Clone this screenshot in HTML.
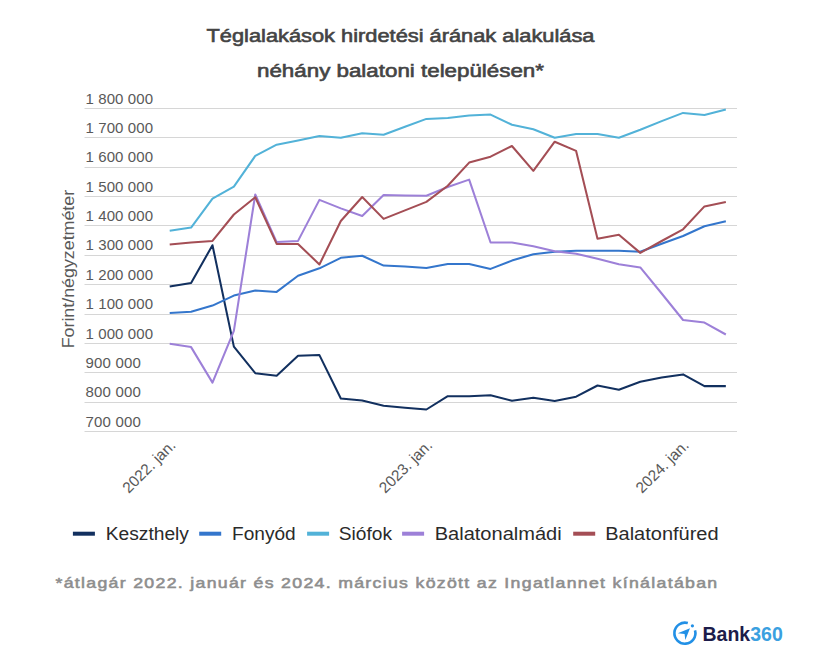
<!DOCTYPE html>
<html><head><meta charset="utf-8"><style>
html,body{margin:0;padding:0;background:#fff;}
body{width:813px;height:663px;overflow:hidden;position:relative;font-family:"Liberation Sans",sans-serif;}
svg{position:absolute;left:0;top:0;}
.tk{font-size:15px;fill:#595959;}
.yt{font-size:16.8px;fill:#595959;}
.title{font-size:18.3px;font-weight:normal;fill:#444;stroke:#444;stroke-width:0.6px;}
.leg{font-size:17.5px;fill:#2a2a2a;}
.foot{font-size:14.8px;font-weight:normal;fill:#8e8e8e;stroke:#8e8e8e;stroke-width:0.55px;letter-spacing:1.1px;}
</style></head><body>
<svg width="813" height="663" viewBox="0 0 813 663">
<text x="206.5" y="41.9" class="title" textLength="388" lengthAdjust="spacingAndGlyphs">Téglalakások hirdetési árának alakulása</text>
<text x="257" y="76.7" class="title" textLength="287" lengthAdjust="spacingAndGlyphs">néhány balatoni településen*</text>
<rect x="84.5" y="108" width="652.5" height="1" fill="#d6d6d6"/>
<rect x="84.5" y="137" width="652.5" height="1" fill="#d6d6d6"/>
<rect x="84.5" y="167" width="652.5" height="1" fill="#d6d6d6"/>
<rect x="84.5" y="196" width="652.5" height="1" fill="#d6d6d6"/>
<rect x="84.5" y="225" width="652.5" height="1" fill="#d6d6d6"/>
<rect x="84.5" y="255" width="652.5" height="1" fill="#d6d6d6"/>
<rect x="84.5" y="284" width="652.5" height="1" fill="#d6d6d6"/>
<rect x="84.5" y="314" width="652.5" height="1" fill="#d6d6d6"/>
<rect x="84.5" y="343" width="652.5" height="1" fill="#d6d6d6"/>
<rect x="84.5" y="372" width="652.5" height="1" fill="#d6d6d6"/>
<rect x="84.5" y="402" width="652.5" height="1" fill="#d6d6d6"/>
<rect x="84.5" y="431" width="652.5" height="1" fill="#d6d6d6"/>
<text x="85.5" y="103.70" class="tk" style="letter-spacing:0.1px">1 800 000</text>
<text x="85.5" y="133.05" class="tk" style="letter-spacing:0.1px">1 700 000</text>
<text x="85.5" y="162.40" class="tk" style="letter-spacing:0.1px">1 600 000</text>
<text x="85.5" y="191.75" class="tk" style="letter-spacing:0.1px">1 500 000</text>
<text x="85.5" y="221.10" class="tk" style="letter-spacing:0.1px">1 400 000</text>
<text x="85.5" y="250.45" class="tk" style="letter-spacing:0.1px">1 300 000</text>
<text x="85.5" y="279.80" class="tk" style="letter-spacing:0.1px">1 200 000</text>
<text x="85.5" y="309.15" class="tk" style="letter-spacing:0.1px">1 100 000</text>
<text x="85.5" y="338.50" class="tk" style="letter-spacing:0.1px">1 000 000</text>
<text x="85.5" y="367.85" class="tk" style="letter-spacing:0.2px">900 000</text>
<text x="85.5" y="397.20" class="tk" style="letter-spacing:0.2px">800 000</text>
<text x="85.5" y="426.55" class="tk" style="letter-spacing:0.2px">700 000</text>
<text transform="translate(176.50,446.3) rotate(-45)" text-anchor="end" class="tk" style="font-size:15.4px">2022. jan.</text>
<text transform="translate(433.18,446.3) rotate(-45)" text-anchor="end" class="tk" style="font-size:15.4px">2023. jan.</text>
<text transform="translate(689.86,446.3) rotate(-45)" text-anchor="end" class="tk" style="font-size:15.4px">2024. jan.</text>
<text transform="translate(74.3,269.1) rotate(-90)" text-anchor="middle" class="yt" textLength="158.5" lengthAdjust="spacingAndGlyphs">Forint/négyzetméter</text>
<polyline points="169.70,286.50 191.09,283.00 212.48,245.20 233.87,346.60 255.26,373.20 276.65,375.70 298.04,355.80 319.43,355.10 340.82,398.50 362.21,400.60 383.60,405.70 404.99,407.70 426.38,409.50 447.77,396.20 469.16,396.20 490.55,395.20 511.94,400.70 533.33,397.80 554.72,401.00 576.11,396.70 597.50,385.50 618.89,389.80 640.28,381.80 661.67,377.60 683.06,374.40 704.45,386.10 725.84,386.10" fill="none" stroke="#12305f" stroke-width="2.05" stroke-linejoin="round" stroke-linecap="butt"/>
<polyline points="169.70,313.00 191.09,311.80 212.48,305.60 233.87,295.60 255.26,290.60 276.65,291.90 298.04,275.70 319.43,268.30 340.82,257.80 362.21,255.70 383.60,265.60 404.99,266.60 426.38,267.90 447.77,263.90 469.16,263.90 490.55,268.90 511.94,260.60 533.33,254.20 554.72,251.70 576.11,250.70 597.50,250.70 618.89,250.70 640.28,251.70 661.67,243.80 683.06,236.00 704.45,226.30 725.84,221.20" fill="none" stroke="#3476cc" stroke-width="2.05" stroke-linejoin="round" stroke-linecap="butt"/>
<polyline points="169.70,230.80 191.09,227.60 212.48,198.60 233.87,186.60 255.26,155.90 276.65,144.70 298.04,140.50 319.43,136.00 340.82,137.80 362.21,133.20 383.60,134.80 404.99,126.80 426.38,118.90 447.77,117.90 469.16,115.60 490.55,114.60 511.94,124.80 533.33,129.30 554.72,137.80 576.11,134.00 597.50,134.00 618.89,137.80 640.28,129.80 661.67,121.10 683.06,112.90 704.45,114.90 725.84,109.40" fill="none" stroke="#52b2d8" stroke-width="2.05" stroke-linejoin="round" stroke-linecap="butt"/>
<polyline points="169.70,343.80 191.09,347.10 212.48,382.60 233.87,330.90 255.26,194.50 276.65,242.10 298.04,240.90 319.43,199.90 340.82,208.40 362.21,216.00 383.60,195.00 404.99,195.50 426.38,195.70 447.77,187.00 469.16,179.60 490.55,242.50 511.94,242.50 533.33,246.20 554.72,251.20 576.11,253.70 597.50,258.70 618.89,264.20 640.28,267.40 661.67,293.50 683.06,320.00 704.45,322.60 725.84,334.50" fill="none" stroke="#9d80d8" stroke-width="2.05" stroke-linejoin="round" stroke-linecap="butt"/>
<polyline points="169.70,244.60 191.09,242.60 212.48,240.90 233.87,214.50 255.26,197.20 276.65,243.90 298.04,243.90 319.43,264.50 340.82,221.00 362.21,197.00 383.60,218.90 404.99,210.40 426.38,201.90 447.77,185.80 469.16,162.60 490.55,156.70 511.94,146.00 533.33,170.80 554.72,141.70 576.11,150.90 597.50,238.80 618.89,234.80 640.28,252.90 661.67,241.00 683.06,229.30 704.45,206.40 725.84,201.90" fill="none" stroke="#a44e55" stroke-width="2.05" stroke-linejoin="round" stroke-linecap="butt"/>
<g id="legend"><rect x="72.9" y="531.7" width="22" height="4" fill="#12305f"/><text x="105.7" y="539.9" class="leg" textLength="83.3" lengthAdjust="spacingAndGlyphs">Keszthely</text><rect x="199.2" y="531.7" width="22" height="4" fill="#3476cc"/><text x="232.0" y="539.9" class="leg" textLength="63.7" lengthAdjust="spacingAndGlyphs">Fonyód</text><rect x="307.1" y="531.7" width="22" height="4" fill="#52b2d8"/><text x="338.8" y="539.9" class="leg" textLength="53.2" lengthAdjust="spacingAndGlyphs">Siófok</text><rect x="402.1" y="531.7" width="22" height="4" fill="#9d80d8"/><text x="434.7" y="539.9" class="leg" textLength="127" lengthAdjust="spacingAndGlyphs">Balatonalmádi</text><rect x="573.2" y="531.7" width="22" height="4" fill="#a44e55"/><text x="605.2" y="539.9" class="leg" textLength="113.4" lengthAdjust="spacingAndGlyphs">Balatonfüred</text></g>
<text x="55.5" y="587.5" class="foot" textLength="663" lengthAdjust="spacingAndGlyphs">*átlagár 2022. január és 2024. március között az Ingatlannet kínálatában</text>
<g id="logo">
<path d="M 687.83 623.12 A 10.5 10.5 0 1 0 695.01 630.38" fill="none" stroke="#2290e6" stroke-width="2.6"/>
<circle cx="692.4" cy="625.8" r="1.6" fill="#2290e6"/>
<path d="M 690 628.3 L 677.8 633.2 L 684.6 634.1 L 685.3 640 Z" fill="#2290e6"/>
<text x="702.5" y="640.7" style="font-size:19.5px;font-weight:bold;fill:#1c1c4a">Bank<tspan style="fill:#3aa0e0">360</tspan></text>
</g>
</svg>
</body></html>
